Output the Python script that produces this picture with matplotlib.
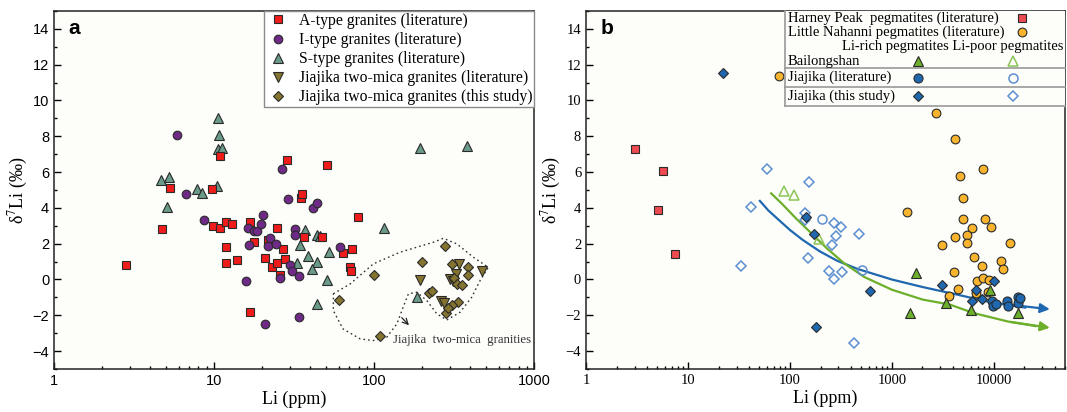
import numpy as np
import matplotlib
matplotlib.use("Agg")
import matplotlib.pyplot as plt
from matplotlib.ticker import MultipleLocator, LogLocator, NullFormatter

plt.rcParams['mathtext.fontset'] = 'stix'
SERIF = ['Liberation Serif', 'DejaVu Serif']
SANS = ['Liberation Sans', 'DejaVu Sans']

# ---------------- panel a data ----------------
a_li = [2.8, 4.7, 5.3, 9.7, 10.9, 9.9, 10.9, 11.9, 12.9, 11.9, 11.9, 13.9, 16.9, 17.9,
        16.9, 20.9, 22.9, 24.7, 24.9, 21.9, 26.8, 27.7, 25.9, 28.6, 34.8, 35.3, 36.6,
        47.6, 51, 63.7, 70.3, 72.1, 73.2, 79.7]
a_d7 = [0.8, 2.8, 5.1, 5.05, 6.9, 3.0, 2.9, 3.2, 3.1, 1.8, 0.9, 1.1, 3.2, 2.1,
        -1.8, 1.2, 0.7, 0.9, 2.9, 2.2, 1.7, 1.15, 0.25, 6.65, 4.55, 4.75, 2.4,
        2.4, 6.4, 1.5, 0.7, 0.5, 1.7, 3.5]

i_li = [5.86, 6.67, 8.67, 15.9, 16.6, 16.2, 17.9, 18.6, 19.7, 20.2, 20.9, 22.4, 21.9,
        24.4, 25.9, 26.7, 29, 32, 31.9, 29.7, 30.6, 34, 34, 41.6, 44.2, 61.5]
i_d7 = [8.1, 4.8, 3.3, -0.1, 1.9, 2.9, 2.7, 2.7, 3.1, 3.6, -2.5, 2.3, 1.85,
        2.0, 0.1, 6.2, 4.5, 2.8, 2.5, 0.8, 0.5, 0.2, -2.1, 4.0, 4.3, 1.8]

s_li = [4.67, 5.2, 5.1, 7.8, 8.4, 10.4, 10.6, 10.8, 10.6, 11.2, 36.8, 34.3, 33.1, 38.8,
        44, 46, 44, 41.2, 52.3, 50.7, 43.8, 115, 193, 379, 186]
s_d7 = [5.55, 5.7, 4.05, 5.05, 4.85, 5.25, 9.05, 8.05, 7.3, 7.35, 2.75, 1.95, 0.9, 1.3,
        2.5, 2.45, 1.0, 0.6, 1.55, -0.05, -1.35, 2.85, 7.35, 7.45, -1.0]

jl_li = [193, 341, 471, 324, 299, 310, 264, 275]
jl_d7 = [-0.05, 0.85, 0.5, 0.3, 0.0, -0.1, -1.2, -1.3]

js_li = [278, 199.5, 100, 60.4, 109.5, 308, 387, 388, 318, 329, 353, 222, 231, 336, 306, 280, 290]
js_d7 = [1.86, 0.96, 0.27, -1.14, -3.13, 0.85, 0.68, 0.23, 0.09, -0.25, -0.32, -0.77, -0.62,
         -1.23, -1.42, -1.85, -1.6]

# outline of the Jiajika two-mica granite field
field_li = [55.7, 70.8, 99, 145, 235, 271, 329, 418, 518, 460, 408, 345, 285, 247, 214,
            185, 164, 152, 139, 120, 99, 82, 64, 55.7, 55.7]
field_d7 = [-0.8, -0.25, 0.87, 1.52, 2.08, 2.3, 1.99, 1.24, 0.68, -0.06, -0.99, -1.83,
            -2.26, -1.92, -1.18, -0.71, -0.8, -1.55, -2.48, -3.23, -3.41, -3.32, -2.76,
            -1.74, -0.8]

# ---------------- panel b data ----------------
hp_li = [3.0, 5.74, 5.07, 7.53]
hp_d7 = [7.3, 6.07, 3.88, 1.4]

ln_li = [77.8, 2700, 4210, 4640, 7800, 5000, 1425, 5050, 8170, 6180, 9350, 5520, 5430,
         4180, 3110, 14580, 6470, 11890, 7630, 12440, 4120, 6810, 7850, 9000, 4430, 3640,
         6760, 8800]
ln_d7 = [11.36, 9.28, 7.87, 5.77, 6.16, 4.56, 3.75, 3.36, 3.36, 2.86, 2.96, 2.47, 2.06,
         2.38, 1.95, 2.06, 1.28, 1.06, 0.78, 0.57, 0.44, -0.06, 0.07, -0.02, -0.55, -0.92,
         -0.77, -0.7]

bl_rich_li = [1746, 1500, 3430, 6040, 9140, 17180]
bl_rich_d7 = [0.35, -1.85, -1.29, -1.7, -0.58, -1.85]
bl_poor_li = [87.3, 108.7, 191]
bl_poor_d7 = [4.97, 4.7, 2.27]

jlit_rich_li = [9600, 9800, 10600, 13500, 13900, 17500, 17300, 18000]
jlit_rich_d7 = [-1.2, -1.5, -1.35, -1.2, -1.5, -1.0, -1.3, -1.05]
jlit_poor_li = [207, 515]
jlit_poor_d7 = [3.36, 0.54]

jst_rich_li = [22.0, 143.5, 173, 179, 608, 3110, 6760, 10000, 6110, 7660]
jst_rich_d7 = [11.56, 3.47, 2.55, -2.67, -0.66, -0.32, -0.56, -0.06, -1.18, -1.07]
jst_poor_li = [59, 42, 33.1, 154.6, 141, 141, 149, 270, 316, 282, 262, 243, 328, 270, 424, 478]
jst_poor_d7 = [6.16, 4.03, 0.76, 5.47, 3.72, 3.3, 1.18, 3.16, 2.96, 2.45, 1.95, 0.46, 0.44,
               0.03, -3.56, 2.55]

# trend curves
blue_li = [50.8, 61.7, 77.8, 100, 133, 197, 290, 461, 1000, 2000, 4340, 10000, 20370, 37800]
blue_d7 = [4.39, 3.85, 3.33, 2.77, 2.22, 1.57, 1.05, 0.59, 0.0, -0.42, -0.84, -1.31, -1.57, -1.68]
green_li = [65.6, 84, 114.5, 156, 230, 338, 537, 1000, 2000, 3700, 6380, 13840, 25700, 37800]
green_d7 = [4.81, 4.22, 3.42, 2.68, 1.75, 0.92, 0.14, -0.57, -1.12, -1.4, -1.88, -2.35, -2.6, -2.72]

EDGE = '#2a2a2a'
C_A = '#f01c1c'
C_I = '#6e2a86'
C_S = '#6a9a8a'
C_J = '#857430'
C_HP = '#ee4a52'
C_LN = '#f8b42c'
C_GR = '#6caf2a'
C_GR_OPEN = '#8cc455'
C_BL = '#1f68b0'
C_BL_OPEN = '#5b8fd0'

fig = plt.figure(figsize=(10.67, 4.12), dpi=100)
axa = fig.add_axes([0.0506, 0.1044, 0.4499, 0.8689])
axb = fig.add_axes([0.5492, 0.1044, 0.4489, 0.8689])


def style_axes(ax, xmax, tick_family):
    ax.set_xscale('log')
    ax.set_xlim(1, xmax)
    ax.set_ylim(-5, 15)
    ax.yaxis.set_major_locator(MultipleLocator(2))
    ax.yaxis.set_minor_locator(MultipleLocator(1))
    ax.xaxis.set_minor_locator(LogLocator(base=10, subs=np.arange(2, 10)))
    ax.xaxis.set_minor_formatter(NullFormatter())
    ticks = [10 ** k for k in range(int(np.log10(xmax)) + 1)]
    ax.set_xticks(ticks)
    ax.set_xticklabels([str(t) for t in ticks], family=tick_family, fontsize=10.5)
    for lab in ax.get_yticklabels():
        lab.set_family(tick_family)
        lab.set_fontsize(10.5)
    ax.tick_params(which='both', direction='in', top=False, right=False, width=1)
    ax.tick_params(which='major', length=5)
    ax.tick_params(which='minor', length=2.5)
    for sp in ax.spines.values():
        sp.set_linewidth(1.1)
        sp.set_color('#222222')
    ax.set_xlabel('Li (ppm)', family=SERIF, fontsize=13, labelpad=2)
    ax.set_ylabel('δ$^{7}$Li (‰)', family=SERIF, fontsize=13, labelpad=2)
    ax.set_facecolor('#fdfdfa')


# ---------------- panel a ----------------
mk = dict(linestyle='none', markeredgecolor=EDGE, markeredgewidth=0.8)
axa.plot(s_li, s_d7, '^', ms=6.8, color=C_S, label='S-type granites (literature)', zorder=3, **mk)
axa.plot(a_li, a_d7, 's', ms=5.5, color=C_A, label='A-type granites (literature)', zorder=4, **mk)
axa.plot(i_li, i_d7, 'o', ms=6.2, color=C_I, label='I-type granites (literature)', zorder=5, **mk)
axa.plot(jl_li, jl_d7, 'v', ms=6.8, color=C_J, label='Jiajika two-mica granites (literature)', zorder=5, **mk)
axa.plot(js_li, js_d7, 'D', ms=5.0, color=C_J, label='Jiajika two-mica granites (this study)', zorder=6, **mk)
axa.plot(field_li, field_d7, linestyle=(0, (1.2, 2.2)), color='#333333', lw=1.0, zorder=2)
axa.annotate('', xy=(170, -2.67), xytext=(145, -2.02),
             arrowprops=dict(arrowstyle='->', color='#222222', lw=0.9))
axa.text(131, -3.37, 'Jiajika  two-mica  granities', family=SERIF, fontsize=9.2,
         va='center', ha='left', color='#333333')

h, l = axa.get_legend_handles_labels()
order = [1, 2, 0, 3, 4]
leg = axa.legend([h[k] for k in order], [l[k] for k in order], loc='upper right',
                 borderaxespad=0, fancybox=False, edgecolor='#8a8a8a', framealpha=1,
                 prop=dict(family=SERIF, size=11.3), handlelength=1.5, handletextpad=0.55,
                 labelspacing=0.2, borderpad=0.12, numpoints=1)
leg.get_frame().set_linewidth(1.0)
axa.text(0.03, 0.952, 'a', transform=axa.transAxes, family=SANS, fontsize=15,
         fontweight='bold', va='center', ha='left')
style_axes(axa, 1000, SANS)

# ---------------- panel b ----------------
axb.plot(blue_li[:-1], blue_d7[:-1], color=C_BL, lw=1.6, zorder=2)
axb.annotate('', xy=(blue_li[-1], blue_d7[-1]), xytext=(blue_li[-3], blue_d7[-3]),
             arrowprops=dict(arrowstyle='-|>', color=C_BL, lw=1.6, mutation_scale=14))
axb.plot(green_li[:-1], green_d7[:-1], color=C_GR, lw=1.6, zorder=2)
axb.annotate('', xy=(green_li[-1], green_d7[-1]), xytext=(green_li[-3], green_d7[-3]),
             arrowprops=dict(arrowstyle='-|>', color=C_GR, lw=1.6, mutation_scale=14))

axb.plot(hp_li, hp_d7, 's', ms=5.8, color=C_HP, zorder=3, **mk)
axb.plot(ln_li, ln_d7, 'o', ms=6.3, color=C_LN, zorder=3, **mk)
axb.plot(bl_poor_li, bl_poor_d7, '^', ms=7, markerfacecolor='none',
         markeredgecolor=C_GR_OPEN, markeredgewidth=1.1, linestyle='none', zorder=3)
axb.plot(jst_poor_li, jst_poor_d7, 'D', ms=5.5, markerfacecolor='none',
         markeredgecolor=C_BL_OPEN, markeredgewidth=1.1, linestyle='none', zorder=3)
axb.plot(jlit_poor_li, jlit_poor_d7, 'o', ms=6.5, markerfacecolor='none',
         markeredgecolor=C_BL_OPEN, markeredgewidth=1.1, linestyle='none', zorder=3)
axb.plot(bl_rich_li, bl_rich_d7, '^', ms=7, color=C_GR, zorder=4, **mk)
axb.plot(jst_rich_li, jst_rich_d7, 'D', ms=5.3, color=C_BL, zorder=5, **mk)
axb.plot(jlit_rich_li, jlit_rich_d7, 'o', ms=6.5, color=C_BL, zorder=5, **mk)

# table-like legend
tr = axb.transAxes
lx0 = 0.4165
fcol = '#999999'
axb.fill([lx0, 1, 1, lx0], [0.7346, 0.7346, 1, 1], transform=tr, color='#fdfdfa', zorder=6)
for xs, ys in [([lx0, lx0], [0.7346, 1]), ([lx0, 1], [0.7346, 0.7346]),
               ([lx0, 1], [0.840, 0.840]), ([lx0, 1], [0.7886, 0.7886])]:
    axb.plot(xs, ys, transform=tr, color=fcol, lw=1.2, zorder=7, clip_on=False)
tkw = dict(transform=tr, family=SERIF, fontsize=10.5, va='center', ha='left', zorder=8)
axb.text(0.4217, 0.9796, 'Harney Peak  pegmatites (literature)', **tkw)
axb.text(0.4217, 0.9405, 'Little Nahanni pegmatites (literature)', **tkw)
axb.text(0.997, 0.9003, 'Li-rich pegmatites Li-poor pegmatites',
         **{**tkw, 'ha': 'right'})
axb.text(0.4217, 0.8595, 'Bailongshan', **tkw)
axb.text(0.4217, 0.8137, 'Jiajika (literature)', **tkw)
axb.text(0.4217, 0.7626, 'Jiajika (this study)', **tkw)
lmk = dict(transform=tr, zorder=8, clip_on=False, linestyle='none')
axb.plot([0.910], [0.9796], 's', ms=5.8, color=C_HP, markeredgecolor=EDGE, markeredgewidth=0.8, **lmk)
axb.plot([0.910], [0.9405], 'o', ms=6.3, color=C_LN, markeredgecolor=EDGE, markeredgewidth=0.8, **lmk)
axb.plot([0.693], [0.8595], '^', ms=7, color=C_GR, markeredgecolor=EDGE, markeredgewidth=0.8, **lmk)
axb.plot([0.891], [0.8595], '^', ms=7, markerfacecolor='none', markeredgecolor=C_GR_OPEN,
         markeredgewidth=1.1, **lmk)
axb.plot([0.693], [0.8137], 'o', ms=6.5, color=C_BL, markeredgecolor=EDGE, markeredgewidth=0.8, **lmk)
axb.plot([0.891], [0.8137], 'o', ms=6.5, markerfacecolor='none', markeredgecolor=C_BL_OPEN,
         markeredgewidth=1.1, **lmk)
axb.plot([0.693], [0.7626], 'D', ms=5.3, color=C_BL, markeredgecolor=EDGE, markeredgewidth=0.8, **lmk)
axb.plot([0.891], [0.7626], 'D', ms=5.5, markerfacecolor='none', markeredgecolor=C_BL_OPEN,
         markeredgewidth=1.1, **lmk)

axb.text(0.03, 0.952, 'b', transform=tr, family=SANS, fontsize=15,
         fontweight='bold', va='center', ha='left')
style_axes(axb, 50000, SERIF)

fig.savefig('out.png', dpi=100)
